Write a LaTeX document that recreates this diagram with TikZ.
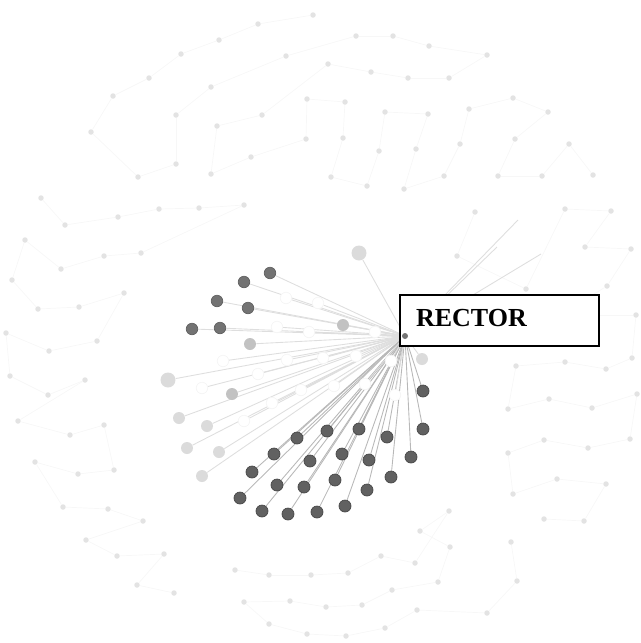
\documentclass[tikz,border=0pt]{standalone}
\usepackage{fontspec}
\setmainfont{Liberation Serif}
\usepackage{tikz}
\pgfdeclarelayer{background}
\pgfsetlayers{background,main}

\begin{document}
\begin{tikzpicture}[x=0.02cm, y=-0.02cm,
    every node/.style={circle, inner sep=0pt},
    bgdot/.style={fill=black!11, minimum size=0.11cm},
    darkdot/.style={fill=black!62, draw=black!72, line width=0.4pt, minimum size=0.24cm},
    outerdot/.style={fill=black!55, draw=black!62, line width=0.4pt, minimum size=0.23cm},
    greydot/.style={fill=black!24, minimum size=0.24cm},
    paledot/.style={fill=black!14, minimum size=0.24cm},
    whitedot/.style={fill=white, draw=black!4, minimum size=0.23cm},
    hubline/.style={draw=black!28, line width=0.5pt},
    softline/.style={draw=black!13, line width=0.5pt},
    hazeline/.style={draw=black!3, line width=0.4pt},
    labelbox/.style={rectangle, draw, fill=white, line width=1.1pt,
                     minimum width=3.98cm, minimum height=1.02cm}
 ]
\useasboundingbox (0,0) rectangle (641,643);

% faint background clusters
\foreach \x/\y [count=\i] in {313/15, 258/24, 219/40, 181/54, 149/78, 113/96, 91/132,
    138/177, 176/164, 176/115, 211/87, 286/56, 356/36, 393/36, 429/46, 487/55,
    449/78, 408/78, 371/72, 328/64, 262/115, 217/126, 211/174, 251/157, 306/139,
    307/99, 345/102, 343/138, 331/177, 367/186, 379/151, 385/112, 428/114, 416/149,
    404/189, 444/176, 460/144, 469/109, 513/98, 548/112, 515/139, 498/176, 542/176,
    569/144, 593/175}
    \node[bgdot] (t\i) at (\x,\y) {};
\foreach \x/\y [count=\i] in {41/198, 65/225, 118/217, 159/209, 199/208, 244/205,
    141/253, 104/256, 61/269, 25/240, 12/280, 38/309, 79/307, 124/293, 97/341,
    49/351, 6/333, 10/376, 48/395, 85/380, 18/421, 70/435, 104/425, 114/470,
    78/474, 35/462, 63/507, 108/509, 143/521, 86/540, 117/556, 164/554, 137/585,
    174/593}
    \node[bgdot] (l\i) at (\x,\y) {};
\foreach \x/\y [count=\i] in {235/570, 269/575, 311/575, 348/573, 381/556, 415/563,
    449/511, 420/531, 450/547, 438/582, 392/590, 362/605, 326/607, 290/601,
    244/602, 269/624, 307/634, 346/636, 385/628, 417/610, 487/613, 517/581,
    511/542}
    \node[bgdot] (b\i) at (\x,\y) {};
\foreach \x/\y [count=\i] in {475/212, 457/256, 526/289, 565/209, 611/211, 585/247,
    631/249, 607/286, 560/315, 636/315, 632/358, 606/369, 565/362, 516/366,
    508/409, 549/399, 592/408, 637/394, 630/439, 588/448, 544/440, 508/453,
    513/494, 557/479, 606/484, 584/521, 544/519}
    \node[bgdot] (r\i) at (\x,\y) {};

% nodes round the rector
\foreach \x/\y [count=\i] in {297/438, 327/431, 359/429, 387/437, 274/454, 310/461,
    342/454, 369/460, 252/472, 277/485, 304/487, 335/480, 367/490, 391/477,
    240/498, 262/511, 288/514, 317/512, 345/506, 411/457, 423/429, 423/391}
    \node[darkdot] (d\i) at (\x,\y) {};
\foreach \x/\y [count=\i] in {270/273, 244/282, 217/301, 248/308, 192/329, 220/328}
    \node[outerdot] (o\i) at (\x,\y) {};
\foreach \x/\y [count=\i] in {343/325, 250/344, 232/394}
    \node[greydot] (g\i) at (\x,\y) {};
\foreach \x/\y [count=\i] in {179/418, 207/426, 187/448, 219/452, 202/476, 422/359}
    \node[paledot] (p\i) at (\x,\y) {};
\node[paledot, minimum size=0.3cm] (p7) at (359,253) {};
\node[paledot, minimum size=0.3cm] (p8) at (168,380) {};
\foreach \x/\y [count=\i] in {277/327, 309/332, 318/303, 286/298, 375/332, 223/361,
    258/374, 287/360, 323/358, 356/356, 391/361, 301/390, 334/386, 365/384,
    272/403, 244/421, 395/395, 202/388}
    \node[whitedot] (w\i) at (\x,\y) {};

\coordinate (f1) at (518,220);
\coordinate (f2) at (541,254);
\coordinate (f3) at (497,247);

\node[labelbox] (rector) at (499.5,320.5) {};
\node[anchor=west, font=\fontsize{14.8}{16}\selectfont\bfseries] (rectortext) at (415,318.5) {RECTOR};
\node[fill=black!55, minimum size=0.12cm] (hub) at (405,336) {};

\begin{pgfonlayer}{background}
  \foreach \i [evaluate=\i as \j using int(\i+1)] in {1,...,44}
    \draw[hazeline] (t\i) -- (t\j);
  \foreach \i [evaluate=\i as \j using int(\i+1)] in {1,...,33}
    \draw[hazeline] (l\i) -- (l\j);
  \foreach \i [evaluate=\i as \j using int(\i+1)] in {1,...,22}
    \draw[hazeline] (b\i) -- (b\j);
  \foreach \i [evaluate=\i as \j using int(\i+1)] in {1,...,26}
    \draw[hazeline] (r\i) -- (r\j);
  \foreach \i in {1,...,22}
    \draw[hubline] (hub) -- (d\i);
  \foreach \i in {1,...,6}
    \draw[softline] (hub) -- (o\i);
  \foreach \i in {1,...,3}
    \draw[softline] (hub) -- (g\i);
  \foreach \i in {1,...,8}
    \draw[softline] (hub) -- (p\i);
  \foreach \i in {1,...,18}
    \draw[softline] (hub) -- (w\i);
  \foreach \i in {1,2,3}
    \draw[softline] (hub) -- (f\i);
\end{pgfonlayer}
\end{tikzpicture}
\end{document}
